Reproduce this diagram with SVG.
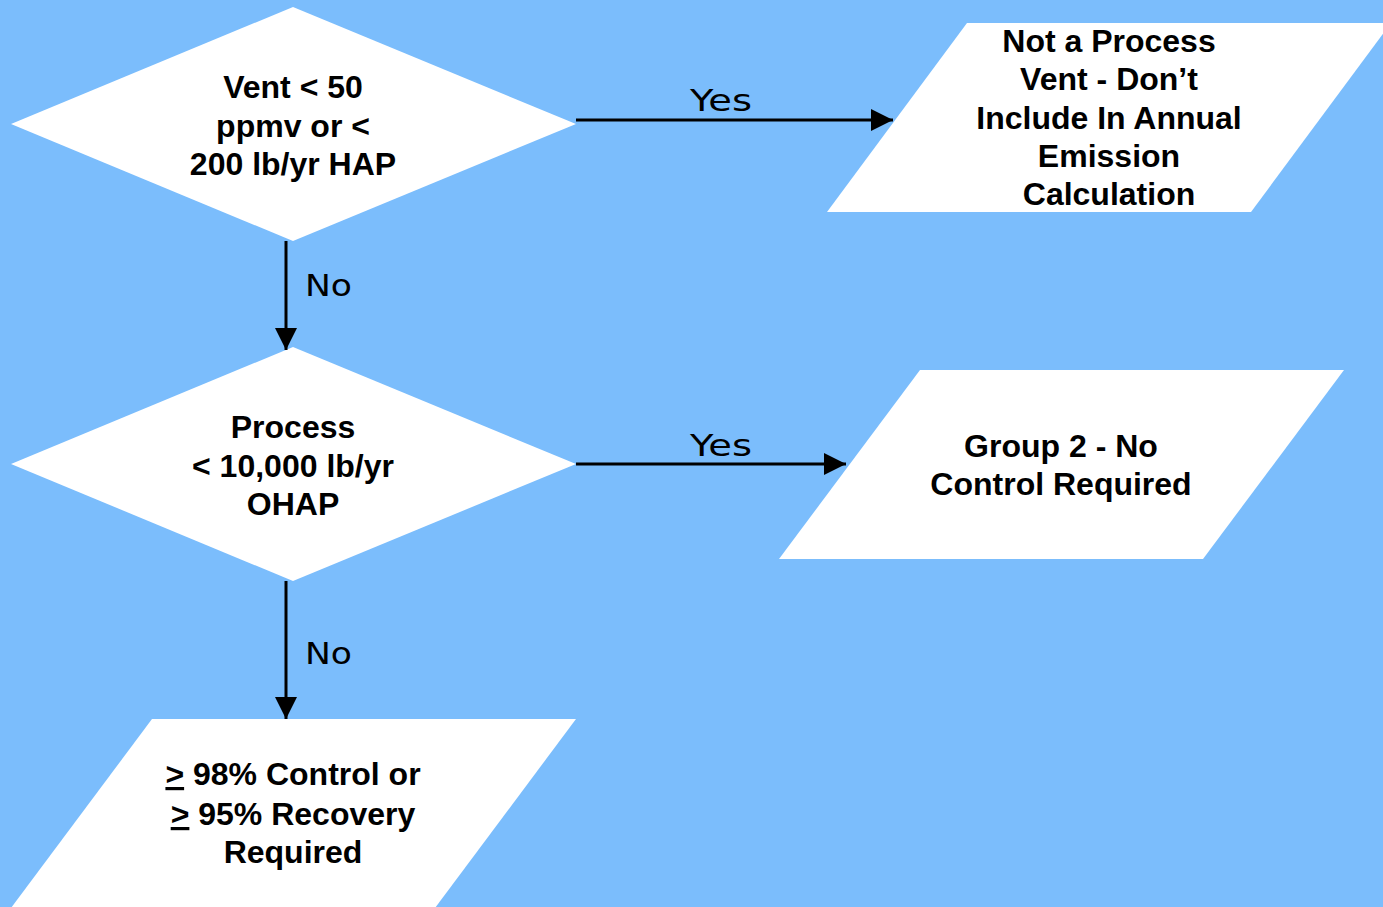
<svg xmlns="http://www.w3.org/2000/svg" width="1383" height="907" viewBox="0 0 1383 907">
  <style>
    .shape { fill: #ffffff; stroke: none; }
    .node-text { font-family: "Liberation Sans", Arial, sans-serif; font-weight: bold; font-size: 32px; fill: #000000; text-anchor: middle; }
    .edge { stroke: #000000; stroke-width: 3; fill: none; }
    .edge-label { font-family: "DejaVu Sans", Verdana, sans-serif; font-size: 31px; fill: #000000; }
  </style>
  <defs>
    <marker id="arrow" markerUnits="userSpaceOnUse" markerWidth="22" markerHeight="22" refX="22" refY="11" orient="auto">
      <path d="M0,0 L22,11 L0,22 Z" fill="#000000"/>
    </marker>
  </defs>

  <rect x="0" y="0" width="1383" height="907" fill="#7BBDFC"/>

  <!-- Decision: vent concentration / HAP load -->
  <g id="decision-vent">
    <polygon class="shape" points="293,7 576,124 293,241 11,124"/>
    <text class="node-text" x="293" y="98">Vent &lt; 50</text>
    <text class="node-text" x="293" y="137">ppmv or &lt;</text>
    <text class="node-text" x="293" y="175">200 lb/yr HAP</text>
  </g>

  <!-- Decision: process OHAP load -->
  <g id="decision-process">
    <polygon class="shape" points="293,347 576,464 293,581 11,464"/>
    <text class="node-text" x="293" y="438">Process</text>
    <text class="node-text" x="293" y="477">&lt; 10,000 lb/yr</text>
    <text class="node-text" x="293" y="515">OHAP</text>
  </g>

  <!-- Outcome: not a process vent -->
  <g id="outcome-not-vent">
    <polygon class="shape" points="967,23 1391,23 1251,212 827,212"/>
    <text class="node-text" x="1109" y="52">Not a Process</text>
    <text class="node-text" x="1109" y="90">Vent - Don’t</text>
    <text class="node-text" x="1109" y="129">Include In Annual</text>
    <text class="node-text" x="1109" y="167">Emission</text>
    <text class="node-text" x="1109" y="205">Calculation</text>
  </g>

  <!-- Outcome: group 2 -->
  <g id="outcome-group2">
    <polygon class="shape" points="920,370 1344,370 1203,559 779,559"/>
    <text class="node-text" x="1061" y="457">Group 2 - No</text>
    <text class="node-text" x="1061" y="495">Control Required</text>
  </g>

  <!-- Outcome: control required -->
  <g id="outcome-control">
    <polygon class="shape" points="152,719 576,719 435,908 11,908"/>
    <text class="node-text" x="293" y="785"><tspan text-decoration="underline">&gt;</tspan> 98% Control or</text>
    <text class="node-text" x="293" y="825"><tspan text-decoration="underline">&gt;</tspan> 95% Recovery</text>
    <text class="node-text" x="293" y="863">Required</text>
  </g>

  <!-- Connectors -->
  <g id="connectors">
    <line class="edge" x1="576" y1="120" x2="893" y2="120" marker-end="url(#arrow)"/>
    <line class="edge" x1="286" y1="241" x2="286" y2="350" marker-end="url(#arrow)"/>
    <line class="edge" x1="576" y1="464" x2="846" y2="464" marker-end="url(#arrow)"/>
    <line class="edge" x1="286" y1="581" x2="286" y2="719" marker-end="url(#arrow)"/>
    <text class="edge-label" x="690" y="111" textLength="62" lengthAdjust="spacingAndGlyphs">Yes</text>
    <text class="edge-label" x="305" y="296" textLength="47" lengthAdjust="spacingAndGlyphs">No</text>
    <text class="edge-label" x="690" y="456" textLength="62" lengthAdjust="spacingAndGlyphs">Yes</text>
    <text class="edge-label" x="305" y="664" textLength="47" lengthAdjust="spacingAndGlyphs">No</text>
  </g>
</svg>
